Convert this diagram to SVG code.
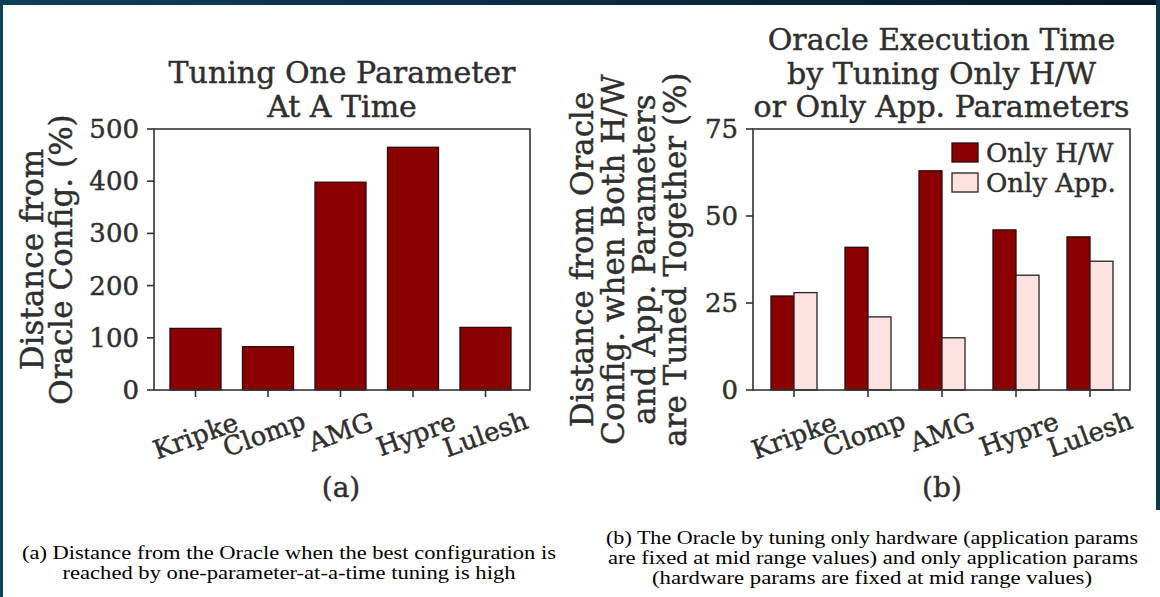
<svg xmlns="http://www.w3.org/2000/svg" width="1160" height="597" viewBox="0 0 1160 597">
<defs>
<linearGradient id="topband" x1="0" y1="0" x2="1" y2="0">
<stop offset="0" stop-color="#0f4058"/>
<stop offset="0.5" stop-color="#0a2c40"/>
<stop offset="1" stop-color="#061a28"/>
</linearGradient>
</defs>
<style>
.t{font-family:"DejaVu Serif",serif;fill:#2e2e2e;stroke:#2e2e2e;stroke-width:0.45}
.title{font-size:30px;text-anchor:middle}
.lab{font-size:31px;text-anchor:middle}
.tick{font-size:26px;text-anchor:end}
.xt{font-size:26px;text-anchor:middle;dominant-baseline:central}
.leg{font-size:26px}
.sub{font-size:28px;text-anchor:middle}
.cap{font-family:"Liberation Serif",serif;font-size:19px;fill:#000;text-anchor:middle}
.ax{fill:none;stroke:#333;stroke-width:1.6}
.tk{stroke:#333;stroke-width:1.6}
.hw{fill:#8b0000;stroke:#2a0a0a;stroke-width:1.3}
.app{fill:#fde2e0;stroke:#222;stroke-width:1.3}
</style>
<rect x="0" y="0" width="1160" height="597" fill="#ffffff"/>
<g id="frame">
<rect x="0" y="0" width="1160" height="5" fill="url(#topband)"/>
<rect x="0" y="0" width="3" height="597" fill="#0f4058"/>
<rect x="1156" y="0" width="4" height="510" fill="#0c3a50"/>
</g>
<g id="chart-a">
<text class="t title" x="342" y="83">Tuning One Parameter</text>
<text class="t title" x="342" y="117">At A Time</text>
<text class="t lab" transform="translate(43,259.5) rotate(-90)">Distance from</text>
<text class="t lab" transform="translate(72,259.5) rotate(-90)">Oracle Config. (%)</text>
<g id="a-yaxis">
<line class="tk" x1="147" y1="390" x2="154" y2="390"/>
<line class="tk" x1="147" y1="337.8" x2="154" y2="337.8"/>
<line class="tk" x1="147" y1="285.6" x2="154" y2="285.6"/>
<line class="tk" x1="147" y1="233.4" x2="154" y2="233.4"/>
<line class="tk" x1="147" y1="181.2" x2="154" y2="181.2"/>
<line class="tk" x1="147" y1="129" x2="154" y2="129"/>
<text class="t tick" x="139" y="399">0</text>
<text class="t tick" x="139" y="346.8">100</text>
<text class="t tick" x="139" y="294.6">200</text>
<text class="t tick" x="139" y="242.4">300</text>
<text class="t tick" x="139" y="190.2">400</text>
<text class="t tick" x="139" y="138">500</text>
</g>
<g id="a-bars">
<rect class="hw" x="170" y="328.4" width="51" height="61.6"/>
<rect class="hw" x="242.5" y="346.7" width="51" height="43.3"/>
<rect class="hw" x="315" y="182.2" width="51" height="207.8"/>
<rect class="hw" x="387.5" y="147.3" width="51" height="242.7"/>
<rect class="hw" x="460" y="327.4" width="51" height="62.6"/>
</g>
<rect class="ax" x="154" y="129" width="376" height="261"/>
<g id="a-xaxis">
<line class="tk" x1="195.5" y1="390" x2="195.5" y2="397"/>
<line class="tk" x1="268" y1="390" x2="268" y2="397"/>
<line class="tk" x1="340.5" y1="390" x2="340.5" y2="397"/>
<line class="tk" x1="413" y1="390" x2="413" y2="397"/>
<line class="tk" x1="485.5" y1="390" x2="485.5" y2="397"/>
<text class="t xt" transform="translate(195.5,436) rotate(-20)">Kripke</text>
<text class="t xt" transform="translate(264,434) rotate(-20)">Clomp</text>
<text class="t xt" transform="translate(340.5,432) rotate(-20)">AMG</text>
<text class="t xt" transform="translate(416,434) rotate(-20)">Hypre</text>
<text class="t xt" transform="translate(485.5,434) rotate(-20)">Lulesh</text>
</g>
<text class="t sub" x="341" y="497">(a)</text>
</g>
<g id="chart-b">
<text class="t title" x="941.5" y="50">Oracle Execution Time</text>
<text class="t title" x="941.5" y="83.5">by Tuning Only H/W</text>
<text class="t title" x="941.5" y="117">or Only App. Parameters</text>
<text class="t lab" transform="translate(593,259.5) rotate(-90)">Distance from Oracle</text>
<text class="t lab" transform="translate(624,259.5) rotate(-90)">Config. when Both H/W</text>
<text class="t lab" transform="translate(655,259.5) rotate(-90)">and App. Parameters</text>
<text class="t lab" transform="translate(686,259.5) rotate(-90)">are Tuned Together (%)</text>
<g id="b-yaxis">
<line class="tk" x1="746" y1="390" x2="753" y2="390"/>
<line class="tk" x1="746" y1="303" x2="753" y2="303"/>
<line class="tk" x1="746" y1="216" x2="753" y2="216"/>
<line class="tk" x1="746" y1="129" x2="753" y2="129"/>
<text class="t tick" x="738" y="399">0</text>
<text class="t tick" x="738" y="312">25</text>
<text class="t tick" x="738" y="225">50</text>
<text class="t tick" x="738" y="138">75</text>
</g>
<g id="b-bars">
<rect class="hw" x="771" y="296" width="23" height="94"/>
<rect class="app" x="794" y="292.6" width="23" height="97.4"/>
<rect class="hw" x="845" y="247.3" width="23" height="142.7"/>
<rect class="app" x="868" y="316.9" width="23" height="73.1"/>
<rect class="hw" x="919" y="170.8" width="23" height="219.2"/>
<rect class="app" x="942" y="337.8" width="23" height="52.2"/>
<rect class="hw" x="993" y="229.9" width="23" height="160.1"/>
<rect class="app" x="1016" y="275.2" width="23" height="114.8"/>
<rect class="hw" x="1067" y="236.9" width="23" height="153.1"/>
<rect class="app" x="1090" y="261.2" width="23" height="128.8"/>
</g>
<rect class="ax" x="753" y="129" width="377" height="261"/>
<g id="b-legend">
<rect class="hw" x="952" y="143" width="26" height="19"/>
<rect class="app" x="952" y="173" width="26" height="19"/>
<text class="t leg" x="986" y="161.5">Only H/W</text>
<text class="t leg" x="986" y="191.5">Only App.</text>
</g>
<g id="b-xaxis">
<line class="tk" x1="794" y1="390" x2="794" y2="397"/>
<line class="tk" x1="868" y1="390" x2="868" y2="397"/>
<line class="tk" x1="942" y1="390" x2="942" y2="397"/>
<line class="tk" x1="1016" y1="390" x2="1016" y2="397"/>
<line class="tk" x1="1090" y1="390" x2="1090" y2="397"/>
<text class="t xt" transform="translate(794,436) rotate(-20)">Kripke</text>
<text class="t xt" transform="translate(864,434) rotate(-20)">Clomp</text>
<text class="t xt" transform="translate(942,432) rotate(-20)">AMG</text>
<text class="t xt" transform="translate(1019,434) rotate(-20)">Hypre</text>
<text class="t xt" transform="translate(1090,434) rotate(-20)">Lulesh</text>
</g>
<text class="t sub" x="942" y="497">(b)</text>
</g>
<g id="captions">
<text class="cap" x="289" y="559" textLength="534" lengthAdjust="spacingAndGlyphs">(a) Distance from the Oracle when the best configuration is</text>
<text class="cap" x="289" y="579" textLength="453" lengthAdjust="spacingAndGlyphs">reached by one-parameter-at-a-time tuning is high</text>
<text class="cap" x="872" y="544" textLength="532" lengthAdjust="spacingAndGlyphs">(b) The Oracle by tuning only hardware (application params</text>
<text class="cap" x="873" y="564" textLength="530" lengthAdjust="spacingAndGlyphs">are fixed at mid range values) and only application params</text>
<text class="cap" x="872" y="584" textLength="440" lengthAdjust="spacingAndGlyphs">(hardware params are fixed at mid range values)</text>
</g>
</svg>
